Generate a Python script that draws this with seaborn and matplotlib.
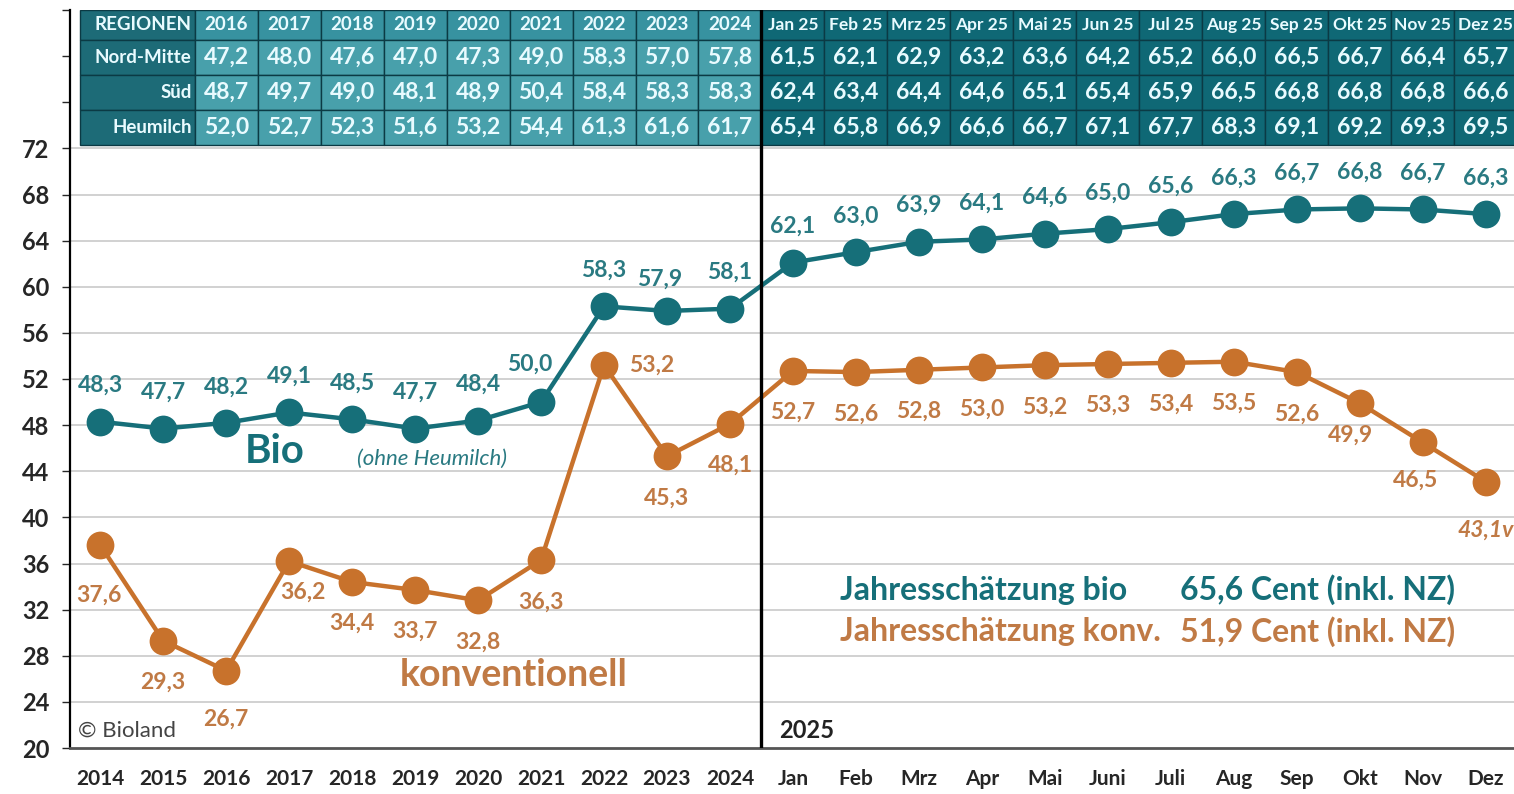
import numpy as np
import pandas as pd
import seaborn as sns
import matplotlib.pyplot as plt
from matplotlib.patches import Rectangle

# Daten
kategorien = ['2014', '2015', '2016', '2017', '2018', '2019', '2020', '2021', '2022', '2023', '2024',
              'Jan', 'Feb', 'Mrz', 'Apr', 'Mai', 'Juni', 'Juli', 'Aug', 'Sep', 'Okt', 'Nov', 'Dez']
bio = [48.3, 47.7, 48.2, 49.1, 48.5, 47.7, 48.4, 50.0, 58.3, 57.9, 58.1,
       62.1, 63.0, 63.9, 64.1, 64.6, 65.0, 65.6, 66.3, 66.7, 66.8, 66.7, 66.3]
konv = [37.6, 29.3, 26.7, 36.2, 34.4, 33.7, 32.8, 36.3, 53.2, 45.3, 48.1,
        52.7, 52.6, 52.8, 53.0, 53.2, 53.3, 53.4, 53.5, 52.6, 49.9, 46.5, 43.1]

tab_spalten = ['2016', '2017', '2018', '2019', '2020', '2021', '2022', '2023', '2024',
               'Jan 25', 'Feb 25', 'Mrz 25', 'Apr 25', 'Mai 25', 'Jun 25', 'Jul 25',
               'Aug 25', 'Sep 25', 'Okt 25', 'Nov 25', 'Dez 25']
nord_mitte = [47.2, 48.0, 47.6, 47.0, 47.3, 49.0, 58.3, 57.0, 57.8,
              61.5, 62.1, 62.9, 63.2, 63.6, 64.2, 65.2, 66.0, 66.5, 66.7, 66.4, 65.7]
sued = [48.7, 49.7, 49.0, 48.1, 48.9, 50.4, 58.4, 58.3, 58.3,
        62.4, 63.4, 64.4, 64.6, 65.1, 65.4, 65.9, 66.5, 66.8, 66.8, 66.8, 66.6]
heumilch = [52.0, 52.7, 52.3, 51.6, 53.2, 54.4, 61.3, 61.6, 61.7,
            65.4, 65.8, 66.9, 66.6, 66.7, 67.1, 67.7, 68.3, 69.1, 69.2, 69.3, 69.5]
regionen = ['Nord-Mitte', 'Süd', 'Heumilch']

TEAL = '#166f79'
TEAL_TXT = '#2a7a82'
ORANGE = '#c8722c'
ORANGE_TXT = '#c07a45'

def fmt(v):
    return f'{v:.1f}'.replace('.', ',')

sns.set_style('white')
plt.rcParams['font.family'] = ['Lato', 'DejaVu Sans']
plt.rcParams['font.weight'] = 'bold'

df = pd.DataFrame({'x': np.arange(len(kategorien)), 'bio': bio, 'konv': konv})

fig = plt.figure(figsize=(15.14, 7.94), dpi=100)
ax = fig.add_axes([70 / 1514, 1 - 748 / 794, 1 - 70 / 1514, 738 / 794])

# Gitterlinien
ax.hlines(np.arange(24, 73, 4), -0.48, 22.5, color='#c9c9c9', lw=1.2, zorder=0)

sns.lineplot(data=df, x='x', y='bio', ax=ax, color=TEAL, lw=3.2, marker='o',
             markersize=20, markeredgewidth=0, zorder=3)
sns.lineplot(data=df, x='x', y='konv', ax=ax, color=ORANGE, lw=3.2, marker='o',
             markersize=20, markeredgewidth=0, zorder=3)

# Wertebeschriftungen
bio_off = {7: (-8, 27), 9: (-5, 23)}
konv_off = {0: (-1, -36), 2: (0, -35), 3: (10, -22), 8: (34, 0), 20: (-7, -23), 21: (-5, -27), 22: (0, -35)}
for i, v in enumerate(bio):
    dx, dy = bio_off.get(i, (0, 26))
    ax.annotate(fmt(v), (i, v), xytext=(dx, dy), textcoords='offset points',
                ha='center', va='center', fontsize=16.5, color=TEAL_TXT, zorder=5)
for i, v in enumerate(konv):
    dx, dy = konv_off.get(i, (0, -30))
    txt = fmt(v) + ('v' if i == len(konv) - 1 else '')
    ax.annotate(txt, (i, v), xytext=(dx, dy), textcoords='offset points',
                ha='center', va='center', fontsize=16.5, color=ORANGE_TXT, zorder=5,
                style='italic' if i == len(konv) - 1 else 'normal')

# Tabelle oben
kanten = [84.0, 81.4, 78.4, 75.35, 72.3]
txt_col = '#e9fbff'
for r, name in enumerate(['REGIONEN'] + regionen):
    y0, y1 = kanten[r + 1], kanten[r]
    ax.add_patch(Rectangle((-0.32, y0), 1.82, y1 - y0, facecolor='#1d6b77',
                           edgecolor='#0b3a44', lw=1, zorder=6))
    ax.text(1.45, (y0 + y1) / 2, name, ha='right', va='center', color=txt_col,
            fontsize=13.5, zorder=7)
zeilen = [tab_spalten, nord_mitte, sued, heumilch]
for c in range(len(tab_spalten)):
    xi = c + 2
    alt = c < 9
    for r in range(4):
        y0, y1 = kanten[r + 1], kanten[r]
        if alt:
            fc = '#3792a0' if r == 0 else '#48a0ab'
        else:
            fc = '#0f6875'
        ax.add_patch(Rectangle((xi - 0.5, y0), 1, y1 - y0, facecolor=fc,
                               edgecolor='#0b3a44', lw=1, zorder=6))
        val = zeilen[r][c]
        if r == 0:
            ax.text(xi, (y0 + y1) / 2, val, ha='center', va='center', color=txt_col,
                    fontsize=13.5 if alt else 12.5, zorder=7, clip_on=True)
        else:
            ax.text(xi, (y0 + y1) / 2, fmt(val), ha='center', va='center', color=txt_col,
                    fontsize=16.5, zorder=7, clip_on=True)

# Trennlinie 2024 / 2025
ax.axvline(10.5, color='black', lw=2.4, zorder=8)

# Texte
ax.text(2.3, 45.7, 'Bio', color=TEAL, fontsize=29, ha='left', va='center', zorder=5)
ax.text(4.08, 45.1, '(ohne Heumilch)', color=TEAL_TXT, fontsize=16, style='italic',
        fontweight='normal', ha='left', va='center', zorder=5)
ax.text(4.76, 26.3, 'konventionell', color=ORANGE_TXT, fontsize=27, ha='left', va='center')
ax.text(-0.35, 21.5, '© Bioland', color='#444444', fontsize=16, fontweight='normal',
        ha='left', va='center')
ax.text(10.78, 21.5, '2025', color='#222222', fontsize=17, ha='left', va='center')
ax.text(11.75, 33.7, 'Jahresschätzung bio', color=TEAL, fontsize=23, ha='left', va='center')
ax.text(21.51, 33.7, '65,6 Cent (inkl. NZ)', color=TEAL, fontsize=23, ha='right', va='center')
ax.text(11.75, 30.1, 'Jahresschätzung konv.', color=ORANGE_TXT, fontsize=23, ha='left', va='center')
ax.text(21.51, 30.1, '51,9 Cent (inkl. NZ)', color=ORANGE_TXT, fontsize=23, ha='right', va='center')

# Achsen
ax.set_xlim(-0.48, 22.45)
ax.set_ylim(20, 84)
ax.set_yticks(np.arange(20, 85, 4))
ax.set_yticklabels([str(t) if t <= 72 else '' for t in range(20, 85, 4)])
ax.set_xticks(range(len(kategorien)))
ax.set_xticklabels(kategorien)
ax.set_xticks(np.arange(0.5, len(kategorien) - 1, 1), minor=True)
ax.tick_params(axis='x', which='major', length=0, pad=15, labelsize=15)
ax.tick_params(axis='x', which='minor', length=6, width=1, color='#555555', direction='out')
ax.tick_params(axis='y', length=6, width=1, pad=9, labelsize=17, direction='out', left=True)
ax.set_xlabel('')
ax.set_ylabel('')
for s in ['top', 'right']:
    ax.spines[s].set_visible(False)
ax.spines['left'].set_color('black')
ax.spines['left'].set_linewidth(1.6)
ax.spines['bottom'].set_color('#555555')
ax.spines['bottom'].set_linewidth(2)
ax.set_facecolor('white')

plt.savefig('out.png', dpi=100)
